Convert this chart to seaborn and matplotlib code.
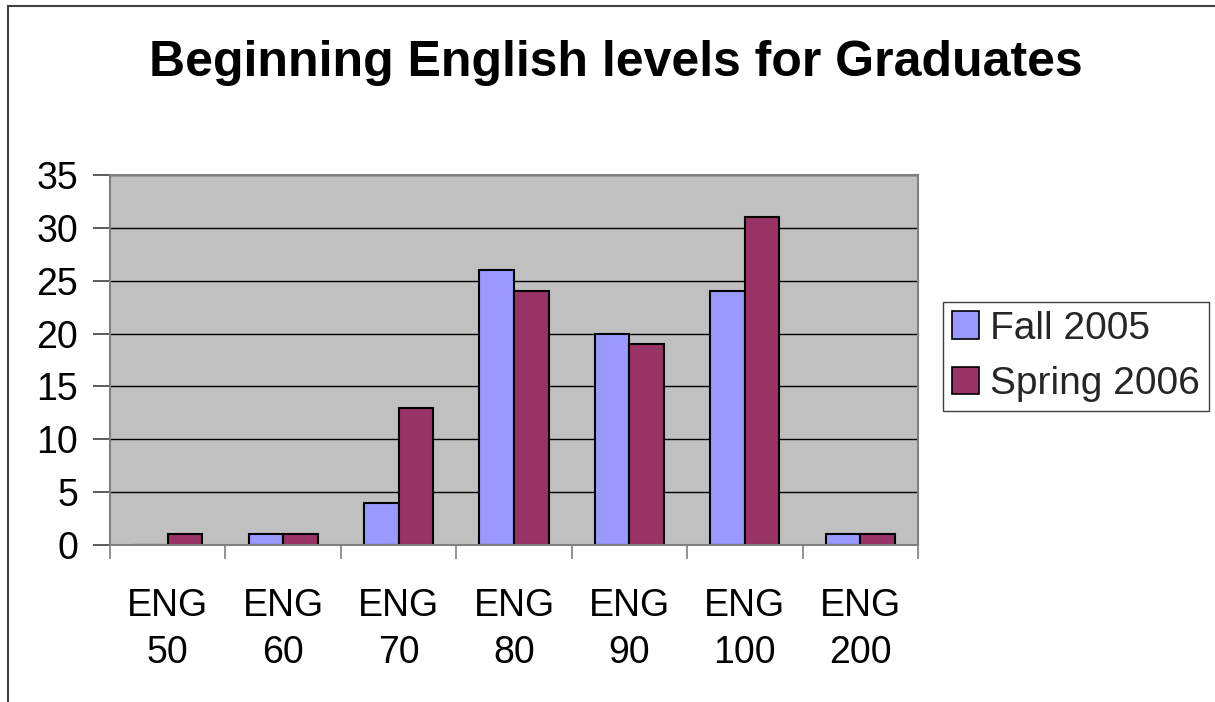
import matplotlib
matplotlib.use("Agg")
import matplotlib.pyplot as plt
import matplotlib.patches as mpatches
import seaborn as sns
import pandas as pd
import numpy as np

# Course levels and counts per term
courses = ["ENG\n50", "ENG\n60", "ENG\n70", "ENG\n80", "ENG\n90", "ENG\n100", "ENG\n200"]
fall_2005 = [0, 1, 4, 26, 20, 24, 1]
spring_2006 = [1, 1, 13, 24, 19, 31, 1]
terms = ["Fall 2005", "Spring 2006"]
term_colors = ["#9999FF", "#993366"]
y_ticks = [0, 5, 10, 15, 20, 25, 30, 35]

df = pd.DataFrame({
    "course": courses * 2,
    "count": fall_2005 + spring_2006,
    "term": [terms[0]] * len(courses) + [terms[1]] * len(courses),
})

sns.set_theme(style="white")
plt.rcParams["font.family"] = ["Liberation Sans", "DejaVu Sans"]

W, H = 1215, 702
fig = plt.figure(figsize=(W / 100, H / 100), dpi=100)
fig.patch.set_facecolor("white")

# Chart border (runs off the right and bottom edges)
fig.patches.append(mpatches.Rectangle((8 / W, -0.5), 2.0, 1 - 6 / H + 0.5,
                                      transform=fig.transFigure, fill=False,
                                      edgecolor="#404040", linewidth=1.5))

ax = fig.add_axes([110 / W, 1 - 545 / H, 808 / W, 370 / H])
ax.set_facecolor("#C0C0C0")

sns.barplot(data=df, x="course", y="count", hue="term", hue_order=terms,
            palette=term_colors, width=0.6, dodge=True, gap=0,
            edgecolor="black", linewidth=1.5, saturation=1, ax=ax, legend=True)

ax.set_xlim(-0.5, len(courses) - 0.5)
ax.set_ylim(0, 35)
ax.set_yticks(y_ticks)
ax.set_axisbelow(True)
ax.yaxis.grid(True, color="black", linewidth=1)
ax.xaxis.grid(False)
ax.set_xlabel("")
ax.set_ylabel("")

for s in ax.spines.values():
    s.set_color("#808080")
    s.set_linewidth(1.5)

ax.tick_params(axis="y", which="major", direction="out", length=12, width=1.2,
               color="#404040", labelsize=27, pad=11, left=True)
ax.tick_params(axis="x", which="major", length=0, labelsize=27, pad=31)
ax.set_xticks(np.arange(-0.5, len(courses), 1.0), minor=True)
ax.tick_params(axis="x", which="minor", direction="out", length=10, width=1.2,
               color="#808080", bottom=True)
for lbl in ax.get_xticklabels():
    lbl.set_linespacing(1.4)
for lbl in ax.get_xticklabels() + ax.get_yticklabels():
    lbl.set_color("black")

fig.text(616 / W, 1 - 63 / H, "Beginning English levels for Graduates",
         ha="center", va="center", fontsize=36, fontweight="bold", color="black")

leg = ax.legend(loc="upper left", bbox_to_anchor=(943 / W, 1 - 302 / H),
                bbox_transform=fig.transFigure, fontsize=28, frameon=True,
                fancybox=False, edgecolor="#404040", framealpha=1,
                handlelength=0.7, handleheight=0.7, handletextpad=0.3,
                borderpad=0.22, labelspacing=0.5, borderaxespad=0)
leg.get_frame().set_linewidth(1)
for h in leg.legend_handles:
    h.set_edgecolor("black")
    h.set_linewidth(1.2)

fig.savefig("out.png", dpi=100)
